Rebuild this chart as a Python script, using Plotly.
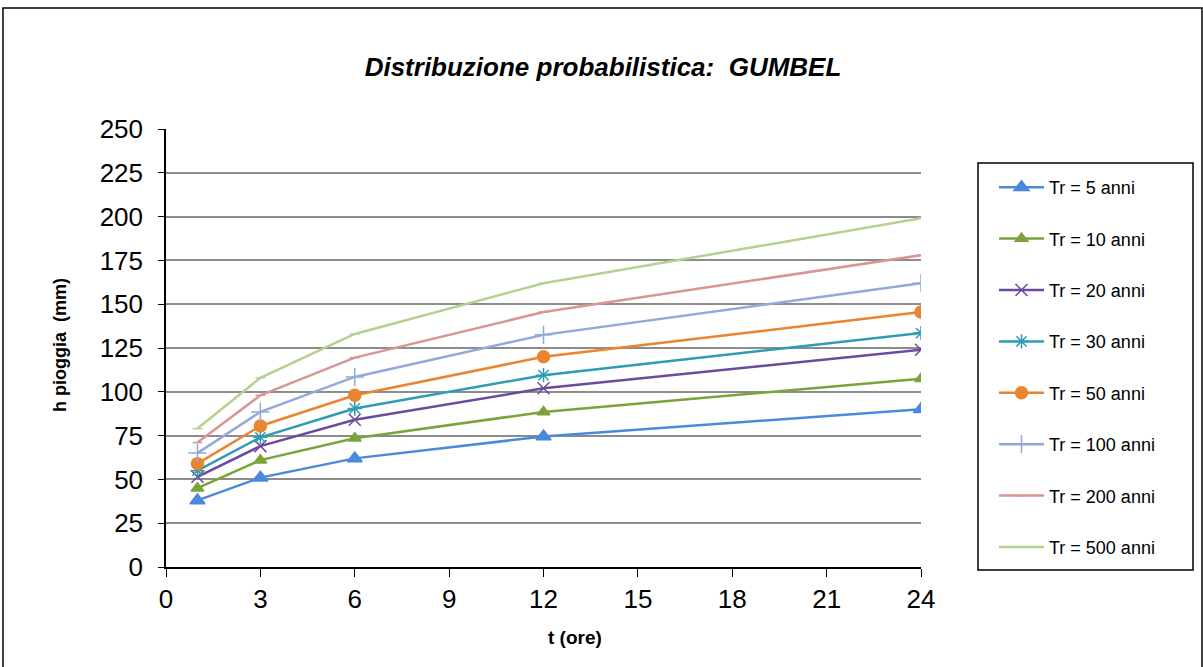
import plotly.graph_objects as go

t_ore = [1, 3, 6, 12, 24]
tr5 = [38, 51, 62, 74.5, 90]
tr10 = [45, 61, 73.5, 88.5, 107.5]
tr20 = [51.5, 69, 84, 102, 124]
tr30 = [55, 74, 90.5, 109.5, 133.5]
tr50 = [59, 80.5, 98, 120, 145.5]
tr100 = [65, 88.5, 108.5, 132.5, 162]
tr200 = [71, 98, 119.5, 145.5, 178]
tr500 = [79, 108, 133, 162, 199]

names = ["Tr = 5 anni", "Tr = 10 anni", "Tr = 20 anni", "Tr = 30 anni",
         "Tr = 50 anni", "Tr = 100 anni", "Tr = 200 anni", "Tr = 500 anni"]
series = [tr5, tr10, tr20, tr30, tr50, tr100, tr200, tr500]
colors = ["#4A89DC", "#7BA33A", "#6A4C9C", "#2E9DB4",
          "#E98430", "#93A9D9", "#D99594", "#B5D090"]
symbols = ["triangle-up", "triangle-up", "x-thin-open", "asterisk-open",
           "circle", "cross-thin-open", "line-ew-open", "line-ew-open"]
msizes = [13, 11, 12, 12, 12, 13, 7, 7]

W, H = 1203, 667
L, T, PW, PH = 166, 129, 755, 438


def px_x(p):
    return (p - L) / PW


def px_y(p):
    return 1 + (T - p) / PH


fig = go.Figure()
for i, (nm, ys, c, s, ms) in enumerate(zip(names, series, colors, symbols, msizes)):
    fig.add_trace(go.Scatter(
        x=t_ore, y=ys, name=nm, mode="lines+markers",
        legendgroup=f"g{i}",
        line=dict(color=c, width=2.5),
        marker=dict(symbol=s, size=ms, color=c, line=dict(color=c, width=1.5)),
    ))

fig.update_layout(
    width=W, height=H,
    margin=dict(l=L, r=W - L - PW, t=T, b=H - T - PH),
    paper_bgcolor="white", plot_bgcolor="white",
    font=dict(family="Liberation Sans, Arial, sans-serif", color="black"),
    title=dict(text="<b><i>Distribuzione probabilistica:  GUMBEL</i></b>",
               x=603 / W, xref="container", y=1 - 67 / H, yref="container",
               xanchor="center", yanchor="middle",
               font=dict(size=26, color="black")),
    showlegend=True,
    legend=dict(x=px_x(994), y=px_y(169), xanchor="left", yanchor="top",
                borderwidth=0, bgcolor="rgba(0,0,0,0)",
                font=dict(size=18, color="black"),
                tracegroupgap=25, itemwidth=45,
                ),
    xaxis=dict(range=[0, 24], tickvals=[0, 3, 6, 9, 12, 15, 18, 21, 24],
               showgrid=False, zeroline=False, showline=True, linecolor="black", linewidth=1.5,
               ticks="outside", ticklen=8, tickcolor="black", tickwidth=1,
               tickfont=dict(size=26)),
    yaxis=dict(range=[0, 250], tickvals=list(range(0, 251, 25)),
               showgrid=True, gridcolor="#8C8C8C", gridwidth=1.5,
               zeroline=False, showline=True, linecolor="black", linewidth=1.5,
               ticks="outside", ticklen=6, tickcolor="black", tickwidth=1,
               ticklabelstandoff=10,
               tickfont=dict(size=26)),
    annotations=[
        dict(text="<b>h pioggia  (mm)</b>", textangle=-90, x=px_x(60), xref="paper",
             y=px_y(345), yref="paper", xanchor="center", yanchor="middle",
             showarrow=False, font=dict(size=18)),
        dict(text="<b>t (ore)</b>", x=px_x(575), xref="paper", y=px_y(637), yref="paper",
             xanchor="center", yanchor="middle",
             showarrow=False, font=dict(size=19)),
    ],
    shapes=[
        dict(type="rect", xref="paper", yref="paper",
             x0=px_x(3), x1=px_x(1202), y0=px_y(700), y1=px_y(8),
             line=dict(color="black", width=1.5), layer="below"),
        dict(type="rect", xref="paper", yref="paper",
             x0=px_x(978), x1=px_x(1193), y0=px_y(570), y1=px_y(163),
             line=dict(color="black", width=1.5), layer="below"),
    ],
)

fig.write_html("out.html", config={"displayModeBar": False},
               post_script="document.body.style.margin='0';")
